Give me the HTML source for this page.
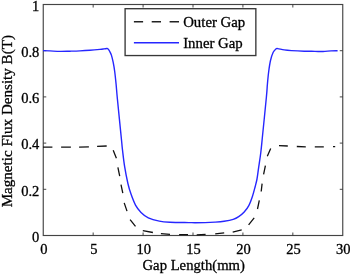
<!DOCTYPE html>
<html><head><meta charset="utf-8"><title>Magnetic Flux Density</title>
<style>
html,body{margin:0;padding:0;background:#fff;}
svg{display:block;}
text{font-family:"Liberation Serif","Times New Roman",serif;fill:#000;stroke:#000;stroke-width:0.3px;}
</style></head><body>
<svg width="350" height="274" viewBox="0 0 350 274">
<rect width="350" height="274" fill="#fff"/>
<rect x="43.25" y="4.5" width="299.50" height="231.00" fill="none" stroke="#444" stroke-width="1.15"/>
<path d="M93.17,235.5 v-3 M93.17,4.5 v3 M143.08,235.5 v-3 M143.08,4.5 v3 M193.00,235.5 v-3 M193.00,4.5 v3 M242.92,235.5 v-3 M242.92,4.5 v3 M292.83,235.5 v-3 M292.83,4.5 v3 M43.25,189.30 h3 M342.75,189.30 h-3 M43.25,143.10 h3 M342.75,143.10 h-3 M43.25,96.90 h3 M342.75,96.90 h-3 M43.25,50.70 h3 M342.75,50.70 h-3" stroke="#333" stroke-width="0.9" fill="none"/>
<path d="M43,50.6 C44.17,50.65 47.17,50.77 50,50.9 C52.83,51.03 56.67,51.35 60,51.4 C63.33,51.45 66.67,51.28 70,51.2 C73.33,51.12 76.67,51.05 80,50.9 C83.33,50.75 86.67,50.55 90,50.3 C93.33,50.05 97.67,49.63 100,49.4 C102.33,49.17 102.87,49.05 104,48.9 C105.13,48.75 106.20,48.55 106.8,48.5 C107.40,48.45 107.30,48.42 107.6,48.6 C107.90,48.78 108.27,49.17 108.6,49.6 C108.93,50.03 109.13,50.28 109.6,51.2 C110.07,52.12 110.80,53.23 111.4,55.1 C112.00,56.97 112.65,59.67 113.2,62.4 C113.75,65.13 114.22,67.85 114.7,71.5 C115.18,75.15 115.65,79.72 116.1,84.3 C116.55,88.88 116.50,89.72 117.4,99 C118.30,108.28 120.65,131.50 121.5,140 C122.35,148.50 121.98,145.60 122.5,150 C123.02,154.40 123.70,160.82 124.6,166.4 C125.50,171.98 126.83,178.88 127.9,183.5 C128.97,188.12 129.73,190.50 131,194.1 C132.27,197.70 133.83,202.05 135.5,205.1 C137.17,208.15 138.87,210.28 141,212.4 C143.13,214.52 145.25,216.35 148.3,217.8 C151.35,219.25 155.68,220.37 159.3,221.1 C162.92,221.83 165.10,221.95 170,222.2 C174.90,222.45 184.53,222.52 188.7,222.6 C192.87,222.68 192.28,222.70 195,222.7 C197.72,222.70 201.67,222.70 205,222.6 C208.33,222.50 211.82,222.33 215,222.1 C218.18,221.87 221.07,221.67 224.1,221.2 C227.13,220.73 230.77,220.07 233.2,219.3 C235.63,218.53 236.87,217.82 238.7,216.6 C240.53,215.38 242.52,213.83 244.2,212 C245.88,210.17 247.43,208.18 248.8,205.6 C250.17,203.02 251.33,199.68 252.4,196.5 C253.47,193.32 254.43,189.42 255.2,186.5 C255.97,183.58 256.43,182.12 257,179 C257.57,175.88 257.97,172.22 258.6,167.8 C259.23,163.38 260.13,157.97 260.8,152.5 C261.47,147.03 261.67,144.25 262.6,135 C263.53,125.75 265.60,105.45 266.4,97 C267.20,88.55 267.02,88.55 267.4,84.3 C267.78,80.05 268.18,75.47 268.7,71.5 C269.22,67.53 269.75,63.70 270.5,60.5 C271.25,57.30 272.28,54.23 273.2,52.3 C274.12,50.37 275.23,49.52 276,48.9 C276.77,48.28 276.43,48.43 277.8,48.6 C279.17,48.77 281.92,49.57 284.2,49.9 C286.48,50.23 288.15,50.38 291.5,50.6 C294.85,50.82 300.38,51.08 304.3,51.2 C308.22,51.33 311.88,51.30 315,51.35 C318.12,51.40 320.33,51.58 323,51.5 C325.67,51.42 328.57,51.03 331,50.9 C333.43,50.77 336.50,50.73 337.6,50.7" stroke="#2626ff" stroke-width="1.4" fill="none" stroke-linejoin="round"/>
<path d="M43,147.2 L52.4,147.2 M61.1,147.2 L70.9,147.2 M79.1,147.1 L88.9,146.8 M97.1,146.3 L106.7,146 M113.2,150.3 L116.4,158.2 M117.9,167.4 L119.7,176.1 M121,184.7 L122.8,193.2 M124.2,202.9 L127,211.1 M130.1,219.7 L135.5,226.4 M142.8,230.6 L152.9,232.5 M160.9,233.7 L170,234.3 M179.1,234.6 L188,234.7 M196.7,234.8 L205.6,234.4 M215.2,233.9 L224.2,232.9 M232.7,232.1 L241.7,229.9 M248.6,224.8 L254.2,217.9 M257.5,209 L259.3,200.4 M261.2,191.5 L262.1,183.6 M263.6,174.4 L265.4,165.7 M267.3,156.3 L270.7,148.5 M279,145.6 L287.8,146 M296.8,146.5 L305.8,146.8 M314.8,146.8 L323.8,146.8 M333,146.6 L335.2,146.6" stroke="#111" stroke-width="1.3" fill="none"/>
<rect x="125.1" y="8.7" width="130.75" height="46.85" fill="#fff" stroke="#383838" stroke-width="1.35"/>
<path d="M133.9,21.8 h9.2 M151.7,21.8 h9.3 M169.6,21.8 h9.4" stroke="#222" stroke-width="1.5"/>
<path d="M133.9,42.65 H179" stroke="#2626ff" stroke-width="1.45"/>
<g font-size="14.8px"><text x="183.2" y="27.2">Outer Gap</text><text x="183.2" y="48.1">Inner Gap</text></g>
<g font-size="14.5px"><text x="43.85" y="254" text-anchor="middle">0</text><text x="93.77" y="254" text-anchor="middle">5</text><text x="143.68" y="254" text-anchor="middle">10</text><text x="193.60" y="254" text-anchor="middle">15</text><text x="243.52" y="254" text-anchor="middle">20</text><text x="293.43" y="254" text-anchor="middle">25</text><text x="343.35" y="254" text-anchor="middle">30</text><text x="39.3" y="241.70" text-anchor="end">0</text><text x="39.3" y="195.50" text-anchor="end">0.2</text><text x="39.3" y="149.30" text-anchor="end">0.4</text><text x="39.3" y="103.10" text-anchor="end">0.6</text><text x="39.3" y="56.90" text-anchor="end">0.8</text><text x="39.3" y="10.70" text-anchor="end">1</text></g>
<text font-size="14.7px" x="193.7" y="270.1" text-anchor="middle">Gap Length(mm)</text>
<text font-size="15.1px" transform="translate(11.6,121.2) rotate(-90)" text-anchor="middle">Magnetic Flux Density B(T)</text>
</svg>
</body></html>
